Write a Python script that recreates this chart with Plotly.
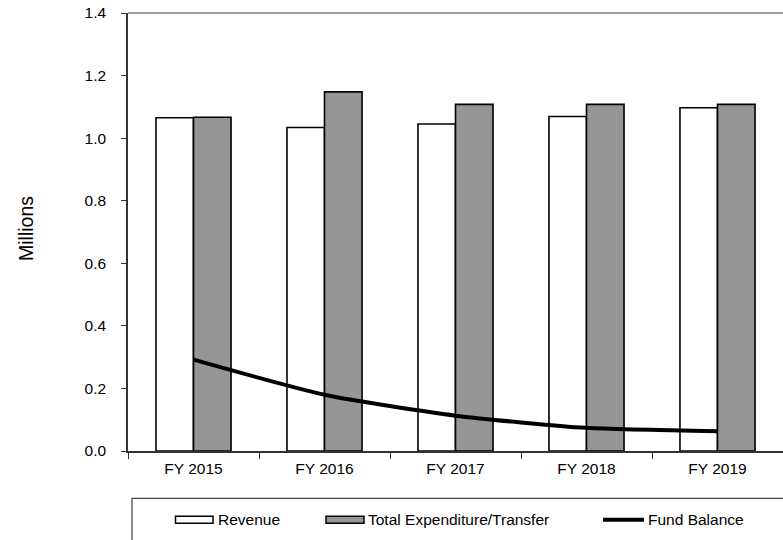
import plotly.graph_objects as go

# Fund summary (values in millions)
years = ["FY 2015", "FY 2016", "FY 2017", "FY 2018", "FY 2019"]
revenue = [1.065, 1.034, 1.045, 1.069, 1.097]
expenditure = [1.067, 1.148, 1.108, 1.108, 1.108]
fund_balance = [0.292, 0.180, 0.113, 0.074, 0.063]

y_ticks = [0.0, 0.2, 0.4, 0.6, 0.8, 1.0, 1.2, 1.4]
y_tick_text = [f"{v:.1f}" for v in y_ticks]

FONT = "Liberation Sans, Arial, sans-serif"
FS = 15.5
GRAY = "#969696"

fig = go.Figure()
fig.add_trace(go.Bar(
    x=years, y=revenue, name="Revenue",
    marker=dict(color="white", line=dict(color="black", width=1.6)),
))
fig.add_trace(go.Bar(
    x=years, y=expenditure, name="Total Expenditure/Transfer",
    marker=dict(color=GRAY, line=dict(color="black", width=1.6)),
))
fig.add_trace(go.Scatter(
    x=years, y=fund_balance, name="Fund Balance", mode="lines",
    line=dict(color="black", width=4, shape="spline", smoothing=0.6),
))

W, H = 783, 540
ml, mt, mb = 128, 12.6, 88.5


def px_x(x):
    return (x - ml) / (W - ml)


def px_y(y):
    return ((H - mb) - y) / (H - mt - mb)


shapes = [
    # top border of the plot frame
    dict(type="line", xref="paper", yref="paper", x0=0, x1=1, y0=1, y1=1,
         line=dict(color="#a0a0a0", width=2)),
    # legend frame below the plot
    dict(type="rect", xref="paper", yref="paper",
         x0=px_x(132), x1=px_x(W + 10), y0=px_y(560), y1=px_y(499),
         line=dict(color="#404040", width=1.2), fillcolor="white"),
]

legend_y = 520.5
shapes.append(dict(type="rect", xref="paper", yref="paper",
                   x0=px_x(175.5), x1=px_x(213), y0=px_y(524), y1=px_y(517),
                   line=dict(color="black", width=1.5), fillcolor="white"))
shapes.append(dict(type="rect", xref="paper", yref="paper",
                   x0=px_x(326), x1=px_x(364), y0=px_y(524), y1=px_y(517),
                   line=dict(color="black", width=1.5), fillcolor=GRAY))
shapes.append(dict(type="line", xref="paper", yref="paper",
                   x0=px_x(603), x1=px_x(644), y0=px_y(legend_y), y1=px_y(legend_y),
                   line=dict(color="black", width=4)))

annotations = [
    dict(text="Millions", xref="paper", yref="paper", x=px_x(26), y=px_y(229),
         textangle=-90, showarrow=False, xanchor="center", yanchor="middle",
         font=dict(family=FONT, size=19.5, color="black")),
]
for label, x0 in [("Revenue", 216), ("Total Expenditure/Transfer", 366), ("Fund Balance", 646)]:
    annotations.append(dict(text=label, xref="paper", yref="paper", x=px_x(x0), y=px_y(legend_y),
                            showarrow=False, xanchor="left", yanchor="middle",
                            font=dict(family=FONT, size=FS, color="black")))

fig.update_layout(
    width=W, height=H,
    margin=dict(l=ml, r=0, t=mt, b=mb, pad=0),
    paper_bgcolor="white", plot_bgcolor="white",
    barmode="group", bargap=0.427, bargroupgap=0,
    showlegend=False,
    font=dict(family=FONT, size=FS, color="black"),
    shapes=shapes, annotations=annotations,
    xaxis=dict(
        type="category", tickson="boundaries", ticks="outside", ticklen=6,
        tickcolor="#333333", showline=True, linecolor="#333333", linewidth=1.5,
        showgrid=False, zeroline=False, ticklabelstandoff=3,
        tickfont=dict(family=FONT, size=FS),
    ),
    yaxis=dict(
        range=[0, 1.4], tickvals=y_ticks, ticktext=y_tick_text,
        ticks="outside", ticklen=5, tickcolor="#333333",
        showline=True, linecolor="#333333", linewidth=1.5,
        showgrid=False, zeroline=False, ticklabelstandoff=12,
        tickfont=dict(family=FONT, size=FS),
    ),
)

fig.write_html("out.html")
